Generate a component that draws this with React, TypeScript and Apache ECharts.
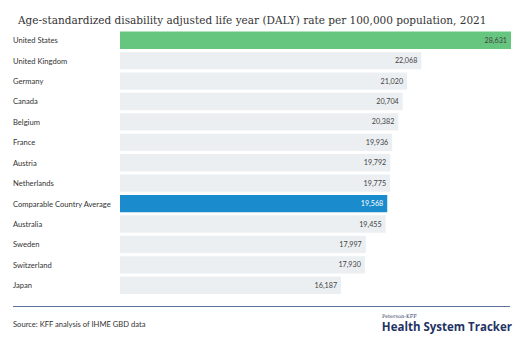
import React, { useEffect, useRef } from "react";
import * as echarts from "echarts";

const categories = [
  "United States",
  "United Kingdom",
  "Germany",
  "Canada",
  "Belgium",
  "France",
  "Austria",
  "Netherlands",
  "Comparable Country Average",
  "Australia",
  "Sweden",
  "Switzerland",
  "Japan",
];
const values = [28631, 22068, 21020, 20704, 20382, 19936, 19792, 19775, 19568, 19455, 17997, 17930, 16187];
const title = "Age-standardized disability adjusted life year (DALY) rate per 100,000 population, 2021";
const source = "Source: KFF analysis of IHME GBD data";

export default function App() {
  const ref = useRef<HTMLDivElement>(null);
  useEffect(() => {
    if (!ref.current) return;
    const chart = echarts.init(ref.current, null, { renderer: "svg" });
    const colorFor = (name: string) =>
      name === "United States" ? "#66c57f" : name === "Comparable Country Average" ? "#1a8bcc" : "#ebeff2";
    chart.setOption({
      animation: false,
      backgroundColor: "#ffffff",
      title: {
        text: title,
        left: 13,
        top: 9,
        textStyle: { fontFamily: "DejaVu Serif", fontSize: 10.5, fontWeight: "normal", color: "#333" },
      },
      grid: { left: 120, right: 14, top: 30, bottom: 54.5, containLabel: false },
      xAxis: { type: "value", min: 0, max: 28631, show: false },
      yAxis: {
        type: "category",
        data: categories,
        inverse: true,
        axisLine: { show: false },
        axisTick: { show: false },
        axisLabel: {
          align: "left",
          margin: 107,
          fontFamily: "Lato",
          fontSize: 7.6,
          color: "#333",
        },
      },
      series: [
        {
          type: "bar",
          barCategoryGap: "15%",
          data: values.map((v, i) => ({
            value: v,
            itemStyle: { color: colorFor(categories[i]) },
            label: { color: categories[i] === "Comparable Country Average" ? "#fff" : "#444" },
          })),
          label: {
            show: true,
            position: "insideRight",
            distance: 4,
            fontFamily: "Lato",
            fontSize: 7.2,
            formatter: (p: any) => p.value.toLocaleString("en-US"),
          },
        },
      ],
      graphic: [
        {
          type: "line",
          shape: { x1: 13, y1: 306.5, x2: 510, y2: 306.5 },
          style: { stroke: "#5b7398", lineWidth: 1 },
        },
        {
          type: "text",
          left: 13,
          top: 319.5,
          style: { text: source, fontFamily: "Lato", fontSize: 7.6, fill: "#333" },
        },
        {
          type: "text",
          x: 382,
          y: 313,
          style: { text: "Peterson-KFF", fontFamily: "DejaVu Serif", fontSize: 5, fill: "#2a3a6a" },
        },
        {
          type: "text",
          right: 13,
          top: 320,
          style: { text: "Health System Tracker", fontFamily: "Open Sans", fontWeight: "bold", fontSize: 11.5, fill: "#1f3364" },
        },
      ],
    });
    return () => chart.dispose();
  }, []);
  return <div ref={ref} style={{ width: 525, height: 350, position: "absolute", left: 0, top: 0 }} />;
}
